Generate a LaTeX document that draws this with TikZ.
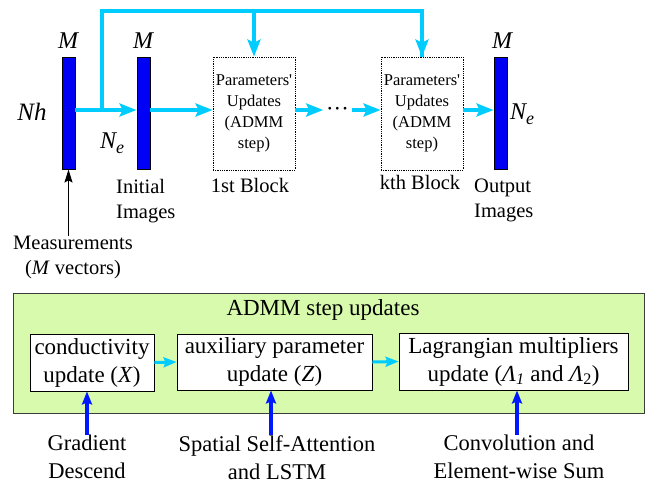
\documentclass[tikz,border=0pt]{standalone}
\usepackage{fontspec}
\setmainfont{Liberation Serif}
\usetikzlibrary{arrows.meta}

\definecolor{flow}{RGB}{0,204,255}
\definecolor{barblue}{RGB}{0,0,245}
\definecolor{feedblue}{RGB}{0,24,255}
\definecolor{stepgreen}{RGB}{215,250,172}
\definecolor{frame}{RGB}{60,60,60}

% large subscript e for the N_e dimension labels
\newcommand{\lowe}{\raisebox{-5pt}{\fontsize{18}{18}\selectfont e}}

\begin{document}
\begin{tikzpicture}[x=1pt,y=-1pt,
  bar/.style={draw=black,line width=0.9pt,fill=barblue,minimum width=13pt,minimum height=112pt,inner sep=0pt},
  blockbox/.style={draw=black,densely dotted,line width=0.8pt,minimum width=82pt,minimum height=113pt,
    inner sep=0pt,align=center,font=\fontsize{16.5}{21}\selectfont},
  flowline/.style={draw=flow,line width=4pt},
  flowarrow/.style={flowline,-{Stealth[length=17pt,width=13pt,inset=3pt]}},
  smallflow/.style={draw=flow,line width=3pt,-{Stealth[length=13pt,width=10pt,inset=2pt]}},
  feedarrow/.style={draw=feedblue,line width=4pt,-{Stealth[length=13pt,width=10pt,inset=2pt]}},
  measarrow/.style={draw=black,line width=1.2pt,-{Stealth[length=13pt,width=8pt,inset=2pt]}},
  dimlabel/.style={font=\fontsize{24}{24}\selectfont\itshape,inner sep=0pt},
  caption/.style={font=\fontsize{20.5}{25}\selectfont,inner sep=0pt},
  stepbox/.style={draw=black,line width=0.9pt,fill=white,inner sep=0pt,align=center,
    font=\fontsize{23}{28}\selectfont},
  sourcelabel/.style={font=\fontsize{22.5}{28}\selectfont,inner sep=0pt,align=center},
]
\useasboundingbox (0,0) rectangle (654,483);

% image bars
\node[bar] (bar1) at (68.5,113) {};
\node[bar] (bar2) at (143.5,113) {};
\node[bar] (bar3) at (500.5,113) {};

% unrolled ADMM blocks
\node[blockbox] (blk1) at (254,113.5) {Parameters\textquotesingle\\Updates\\(ADMM\\step)};
\node[blockbox] (blkk) at (422,113.5) {Parameters\textquotesingle\\Updates\\(ADMM\\step)};
\node[font=\fontsize{11.5}{11.5}\selectfont,inner ysep=0pt,inner xsep=4.5pt] (dots) at (337.5,110)
  {\textbullet\hspace{3.5pt}\textbullet\hspace{3.5pt}\textbullet};

% dimension labels
\node[dimlabel] (m1) at (68,41) {M};
\node[dimlabel] (m2) at (143,41) {M};
\node[dimlabel] (m3) at (502,41) {M};
\node[dimlabel,font=\fontsize{25}{25}\selectfont\itshape] (nh) at (32,112) {Nh};
\node[dimlabel,anchor=base west] (ne1) at (100,148) {N\lowe};
\node[dimlabel,anchor=base west] (ne2) at (510,119) {N\lowe};

% captions
\node[caption,align=left,anchor=north west] (init) at (116,179) {Initial\\Images};
\node[caption,anchor=base] (first) at (250,192) {1st Block};
\node[caption,anchor=base] (kth) at (420,189) {kth Block};
\node[caption,align=left,anchor=north west] (out) at (474,179) {Output\\Images};
\node[caption,align=center,anchor=north] (meas) at (73,236) {Measurements\\(\textit{M} vectors)};

% data flow
\coordinate (split) at (102,110);
\coordinate (top) at (102,11);
\draw[flowarrow] (bar1.east |- split) -- (bar2.west |- split);
\draw[flowarrow] (bar2.east |- split) -- (blk1.west |- split);
\draw[flowarrow] (blk1.east |- split) -- (dots.west);
\draw[flowarrow] (dots.east) -- (blkk.west |- split);
\draw[flowarrow] (blkk.east |- split) -- (bar3.west |- split);
\draw[flowline,line join=miter] (split) -- (top) -| (blkk.north);
\draw[flowarrow] (blkk.north |- top) -- (blkk.north);
\draw[flowarrow] (blk1.north |- top) -- (blk1.north);
\draw[measarrow] (bar1.south |- meas.north) -- (bar1.south);

% ADMM step detail
\node[draw=frame,line width=0.9pt,fill=stepgreen,minimum width=631pt,minimum height=120pt,inner sep=0pt]
  (admm) at (328.5,353) {};
\node[font=\fontsize{23}{23}\selectfont,inner sep=0pt,anchor=base] (title) at (323,315) {ADMM step updates};
\node[stepbox,minimum width=124pt,minimum height=57pt] (xbox) at (92,362.5)
  {conductivity\\update (\textit{X})};
\node[stepbox,minimum width=195pt,minimum height=56pt] (zbox) at (274.5,362)
  {auxiliary parameter\\update (\textit{Z})};
\node[stepbox,minimum width=229pt,minimum height=57pt] (lbox) at (513.5,361.5)
  {Lagrangian multipliers\\update (\textit{Λ}\textsubscript{\textit{1}} and \textit{Λ}\textsubscript{2})};
\draw[smallflow] (xbox.east) -- (zbox.west);
\draw[smallflow] (zbox.east) -- (lbox.west);

% sources of each update
\node[sourcelabel,anchor=north] (grad) at (87,435) {Gradient\\Descend};
\node[sourcelabel,anchor=north] (attn) at (277,435) {Spatial Self-Attention\\and LSTM};
\node[sourcelabel,anchor=north] (conv) at (519,435) {Convolution and\\Element-wise Sum};
\draw[feedarrow] (grad.north) -- (grad.north |- xbox.south);
\draw[feedarrow] ([xshift=-6pt]attn.north) -- ([xshift=-6pt]attn.north |- zbox.south);
\draw[feedarrow] ([xshift=-2pt]conv.north) -- ([xshift=-2pt]conv.north |- lbox.south);
\end{tikzpicture}
\end{document}
